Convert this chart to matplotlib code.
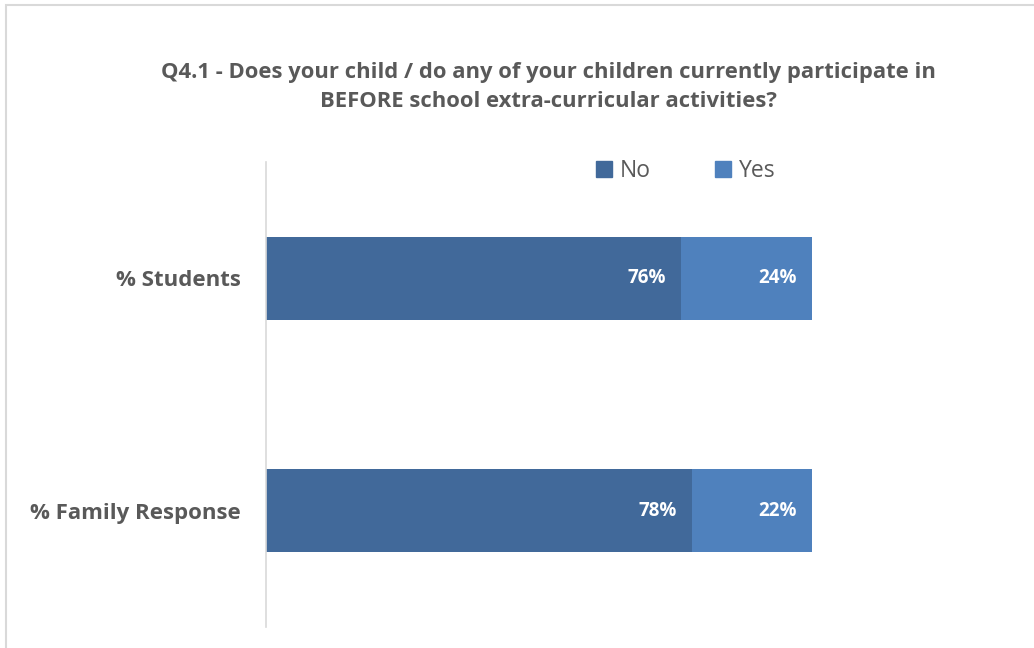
import matplotlib
matplotlib.use("Agg")
import matplotlib.pyplot as plt
from matplotlib.patches import Rectangle, Patch

categories = ["% Family Response", "% Students"]
no_vals = [78, 76]
yes_vals = [22, 24]
series_names = ["No", "Yes"]
colors = ["#41699A", "#4F81BD"]
title = "Q4.1 - Does your child / do any of your children currently participate in\nBEFORE school extra-curricular activities?"

plt.rcParams['font.family'] = ['Open Sans', 'DejaVu Sans']

fig = plt.figure(figsize=(10.34, 6.48), dpi=100)
fig.patch.set_facecolor("white")
fig.add_artist(Rectangle((6/1034, -0.01), 1.02, 1 - 5/648 + 0.01, transform=fig.transFigure,
                         fill=False, edgecolor="#D9D9D9", linewidth=1.5))

ax = fig.add_axes([266/1034, 1 - 627/648, (812 - 266)/1034, (627 - 162)/648])
y = list(range(len(categories)))
h = 0.355
b1 = ax.barh(y, no_vals, height=h, color=colors[0], label=series_names[0])
b2 = ax.barh(y, yes_vals, left=no_vals, height=h, color=colors[1], label=series_names[1])
for bars, vals in ((b1, no_vals), (b2, yes_vals)):
    for rect, v in zip(bars, vals):
        ax.text(rect.get_x() + rect.get_width() - 15/546*100, rect.get_y() + rect.get_height()/2,
                f"{v}%", ha="right", va="center", color="white", fontsize=13.5, fontweight="bold")

ax.set_xlim(0, 100)
ax.set_ylim(-0.5, 1.5)
ax.set_yticks(y)
ax.set_yticklabels(categories, fontsize=16, fontweight="bold", color="#595959")
ax.tick_params(axis="y", length=0, pad=18)
ax.set_xticks([])
for s in ["top", "right", "bottom"]:
    ax.spines[s].set_visible(False)
ax.spines["left"].set_color("#D9D9D9")
ax.spines["left"].set_linewidth(1.2)

fig.text(548/1034, 1 - 87/648, title, ha="center", va="center", fontsize=15.8,
         fontweight="bold", color="#595959", linespacing=1.55)

leg = fig.legend(handles=[Patch(color=colors[0]), Patch(color=colors[1])], labels=series_names,
                 loc="center", bbox_to_anchor=(686/1034, 1 - 171/648), ncol=2, frameon=False,
                 fontsize=16.5, handlelength=0.7, handleheight=0.7, columnspacing=2.8, handletextpad=0.35,
                 labelcolor="#595959")

fig.savefig("out.png", dpi=100)
